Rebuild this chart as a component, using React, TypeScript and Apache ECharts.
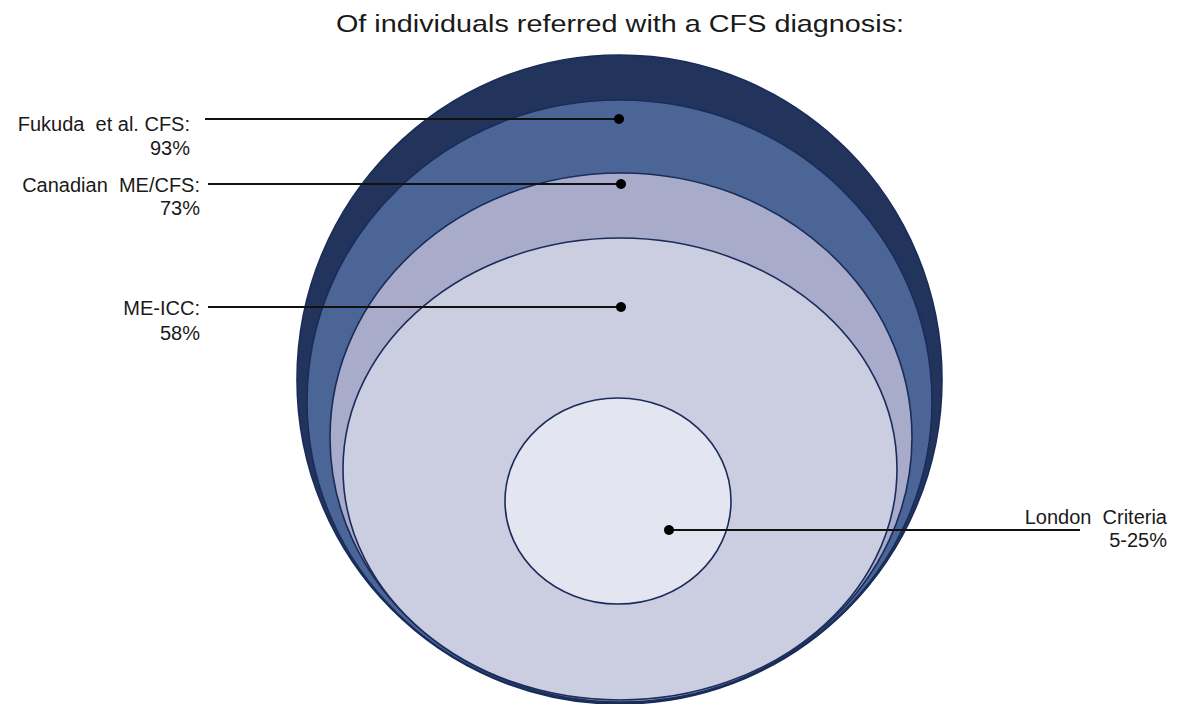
import React, { useEffect, useRef } from "react";
import * as echarts from "echarts";

const titleText = "Of individuals referred with a CFS diagnosis:";

// Criteria labels and their share of referred individuals
const criteria = ["Fukuda  et al. CFS:", "Canadian  ME/CFS:", "ME-ICC:", "London  Criteria"];
const shares = ["93%", "73%", "58%", "5-25%"];

// Nested ellipses (outermost = all referred with CFS diagnosis, innermost = London)
const ellipseCx = [619.5, 619.5, 621, 620, 618];
const ellipseCy = [379.5, 401.5, 437.5, 469, 501];
const ellipseRx = [322.5, 312.5, 291, 277, 113];
const ellipseRy = [324.5, 301.5, 264.5, 231, 103];

// Callout anchors (dot), leader end and label anchor
const dotX = [619, 621, 621, 669];
const dotY = [119, 184, 307, 530];
const leaderEndX = [205, 208, 208, 1080];
const labelRightX = [190, 200, 200, 1167];
const labelY = [124, 185, 308, 517];
const shareY = [148, 208, 333, 540];

const fills = ["#22335c", "#4b6597", "#a9abcb", "#cbcde0", "#e3e6f0"];

export default function App() {
  const ref = useRef<HTMLDivElement>(null);
  useEffect(() => {
    if (!ref.current) return;
    const chart = echarts.init(ref.current, null, { renderer: "svg" });
    const ellipseData = ellipseCx.map((cx, i) => [cx, ellipseCy[i], ellipseRx[i], ellipseRy[i]]);
    const calloutData = dotX.map((x, i) => [x, dotY[i], leaderEndX[i], labelRightX[i], labelY[i], shareY[i]]);
    chart.setOption({
      animation: false,
      grid: { left: 0, right: 0, top: 0, bottom: 0, show: false },
      xAxis: { type: "value", min: 0, max: 1188, show: false },
      yAxis: { type: "value", min: 0, max: 704, inverse: true, show: false },
      graphic: [
        {
          type: "text",
          x: 620,
          y: 24,
          scaleX: 1.2,
          style: {
            text: titleText,
            fill: "#1a1a1a",
            fontSize: 24,
            fontFamily: "Liberation Sans, Arial, sans-serif",
            align: "center",
            verticalAlign: "middle",
          },
        },
      ],
      series: [
        {
          type: "custom",
          coordinateSystem: "cartesian2d",
          clip: false,
          data: ellipseData,
          renderItem: (params: any, api: any) => {
            const c = api.coord([api.value(0), api.value(1)]);
            const s = api.size([api.value(2), api.value(3)]);
            return {
              type: "ellipse",
              shape: { cx: c[0], cy: c[1], rx: Math.abs(s[0]), ry: Math.abs(s[1]) },
              style: {
                fill: fills[params.dataIndex],
                stroke: "#1a2c5a",
                lineWidth: 1.6,
              },
            };
          },
          z: 1,
        },
        {
          type: "custom",
          coordinateSystem: "cartesian2d",
          clip: false,
          data: calloutData,
          renderItem: (params: any, api: any) => {
            const i = params.dataIndex;
            const dot = api.coord([api.value(0), api.value(1)]);
            const end = api.coord([api.value(2), api.value(1)]);
            const lab = api.coord([api.value(3), api.value(4)]);
            const sh = api.coord([api.value(3), api.value(5)]);
            const font = { fontSize: 20, fontFamily: "Liberation Sans, Arial, sans-serif" };
            return {
              type: "group",
              children: [
                {
                  type: "line",
                  shape: { x1: end[0], y1: end[1], x2: dot[0], y2: dot[1] },
                  style: { stroke: "#111", lineWidth: 2 },
                },
                {
                  type: "circle",
                  shape: { cx: dot[0], cy: dot[1], r: 5 },
                  style: { fill: "#000" },
                },
                {
                  type: "text",
                  x: lab[0],
                  y: lab[1],
                  style: { text: criteria[i], fill: "#1a1a1a", align: "right", verticalAlign: "middle", ...font },
                },
                {
                  type: "text",
                  x: sh[0],
                  y: sh[1],
                  style: { text: shares[i], fill: "#1a1a1a", align: "right", verticalAlign: "middle", ...font },
                },
              ],
            };
          },
          z: 5,
        },
      ],
    });
    return () => chart.dispose();
  }, []);
  return (
    <div
      ref={ref}
      style={{ position: "fixed", left: 0, top: 0, width: 1188, height: 704, background: "#fff" }}
    />
  );
}
